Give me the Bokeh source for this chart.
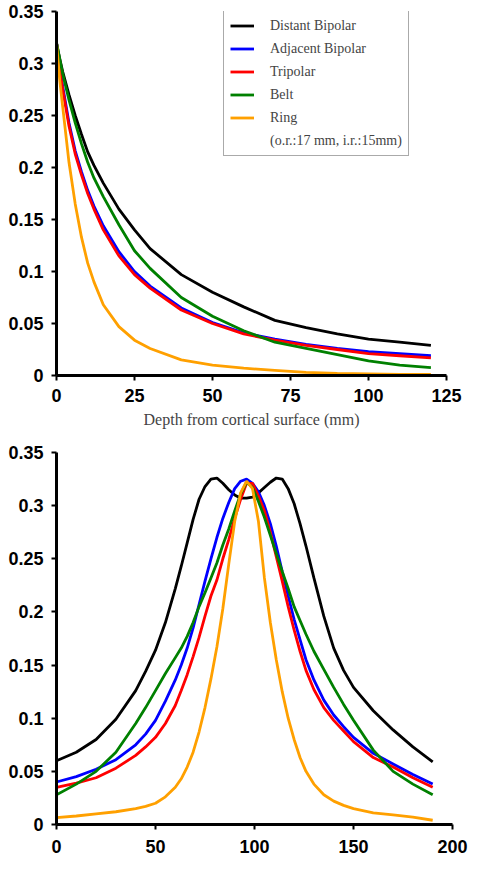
from bokeh.plotting import figure
from bokeh.models import Range1d, FixedTicker, CustomJSTickFormatter, Legend, LegendItem
from bokeh.layouts import column
from bokeh.embed import file_html
from bokeh.resources import INLINE

# ---------------- data: top chart (potential vs depth) ----------------
depth = [0, 1, 2, 4, 6, 8, 10, 12, 15, 20, 25, 30, 40, 50, 60, 70, 80, 90, 100, 110, 120]
top_distant = [0.320, 0.305, 0.292, 0.270, 0.250, 0.232, 0.215, 0.202, 0.185, 0.160, 0.140,
               0.122, 0.097, 0.080, 0.066, 0.053, 0.046, 0.040, 0.035, 0.032, 0.029]
top_adjacent = [0.320, 0.297, 0.278, 0.243, 0.216, 0.196, 0.178, 0.163, 0.144, 0.119, 0.100,
                0.086, 0.065, 0.051, 0.041, 0.035, 0.030, 0.026, 0.023, 0.021, 0.019]
top_tripolar = [0.320, 0.295, 0.275, 0.240, 0.213, 0.193, 0.175, 0.160, 0.140, 0.115, 0.097,
                0.084, 0.063, 0.050, 0.040, 0.034, 0.029, 0.025, 0.021, 0.019, 0.017]
top_belt = [0.320, 0.305, 0.290, 0.265, 0.243, 0.223, 0.205, 0.190, 0.172, 0.145, 0.120,
            0.103, 0.075, 0.057, 0.043, 0.032, 0.026, 0.020, 0.014, 0.010, 0.0075]
top_ring = [0.320, 0.285, 0.258, 0.205, 0.165, 0.133, 0.108, 0.090, 0.068, 0.047, 0.034,
            0.026, 0.015, 0.010, 0.007, 0.005, 0.003, 0.002, 0.0015, 0.001, 0.001]

# ---------------- data: bottom chart (lateral profile) ----------------
pos = [0, 10, 20, 30, 40, 45, 50, 55, 60, 63, 66, 69, 72, 75, 78, 81, 84, 87, 90, 93, 96,
       99, 102, 105, 108, 111, 114, 117, 120, 123, 126, 130, 135, 140, 145, 150, 160, 170,
       180, 190]
bot_distant = [0.060, 0.068, 0.080, 0.099, 0.126, 0.144, 0.164, 0.190, 0.222, 0.243, 0.265,
               0.287, 0.306, 0.318, 0.325, 0.326, 0.321, 0.315, 0.310, 0.307, 0.307,
               0.308, 0.312, 0.317, 0.322, 0.326, 0.325, 0.316, 0.302, 0.283, 0.262,
               0.232, 0.196, 0.166, 0.145, 0.129, 0.107, 0.089, 0.073, 0.059]
bot_adjacent = [0.040, 0.045, 0.052, 0.061, 0.075, 0.085, 0.098, 0.116, 0.136, 0.150, 0.166,
                0.185, 0.207, 0.229, 0.250, 0.270, 0.288, 0.303, 0.316, 0.323, 0.325,
                0.321, 0.313, 0.300, 0.283, 0.262, 0.238, 0.215, 0.193, 0.174, 0.155,
                0.136, 0.117, 0.103, 0.092, 0.082, 0.067, 0.057, 0.047, 0.038]
bot_tripolar = [0.035, 0.039, 0.044, 0.053, 0.065, 0.073, 0.082, 0.095, 0.112, 0.126, 0.141,
                0.158, 0.176, 0.196, 0.215, 0.230, 0.250, 0.268, 0.288, 0.306, 0.321,
                0.321, 0.309, 0.295, 0.275, 0.252, 0.229, 0.205, 0.183, 0.163, 0.145,
                0.127, 0.110, 0.098, 0.088, 0.078, 0.063, 0.054, 0.044, 0.035]
bot_belt = [0.028, 0.038, 0.050, 0.068, 0.095, 0.110, 0.126, 0.142, 0.157, 0.166, 0.177,
            0.190, 0.205, 0.218, 0.232, 0.246, 0.263, 0.278, 0.295, 0.311, 0.322,
            0.317, 0.304, 0.289, 0.272, 0.255, 0.238, 0.222, 0.205, 0.192, 0.179,
            0.163, 0.146, 0.129, 0.113, 0.098, 0.070, 0.050, 0.038, 0.028]
bot_ring = [0.0065, 0.008, 0.010, 0.012, 0.015, 0.017, 0.020, 0.026, 0.035, 0.043, 0.054,
            0.068, 0.087, 0.110, 0.137, 0.167, 0.203, 0.245, 0.285, 0.312, 0.323,
            0.316, 0.285, 0.232, 0.190, 0.155, 0.125, 0.100, 0.080, 0.063, 0.050,
            0.038, 0.028, 0.022, 0.018, 0.015, 0.011, 0.009, 0.007, 0.004]

series_names = ["Distant Bipolar", "Adjacent Bipolar", "Tripolar", "Belt", "Ring"]
ring_note = "(o.r.:17 mm, i.r.:15mm)"
colors = ["#000000", "#0000FF", "#FF0000", "#008000", "#FFA000"]

y_ticks = [0, 0.05, 0.1, 0.15, 0.2, 0.25, 0.3, 0.35]
x_ticks_top = [0, 25, 50, 75, 100, 125]
x_ticks_bottom = [0, 50, 100, 150, 200]
x_label_top = "Depth from cortical surface (mm)"

TICK_FONT = "Liberation Sans"
fmt_code = "var s = tick.toFixed(2).replace(/0+$/, '').replace(/\\.$/, ''); return s;"


def style_axes(p, xticks, x_standoff):
    p.xgrid.visible = False
    p.ygrid.visible = False
    p.outline_line_color = None
    p.background_fill_color = "white"
    p.border_fill_color = "white"
    p.xaxis.ticker = FixedTicker(ticks=xticks)
    p.yaxis.ticker = FixedTicker(ticks=y_ticks)
    p.yaxis.formatter = CustomJSTickFormatter(code=fmt_code)
    for ax in (p.xaxis[0], p.yaxis[0]):
        ax.axis_line_width = 3
        ax.axis_line_color = "black"
        ax.major_tick_line_width = 2
        ax.major_tick_line_color = "black"
        ax.major_tick_in = 0
        ax.major_tick_out = 5
        ax.minor_tick_line_color = None
        ax.major_label_text_font = TICK_FONT
        ax.major_label_text_font_style = "bold"
        ax.major_label_text_font_size = "18px"
        ax.major_label_text_color = "black"
    p.yaxis.major_label_standoff = 8
    p.xaxis.major_label_standoff = x_standoff


LW = 2.8

# ---------------- top figure ----------------
p1 = figure(output_backend="svg", toolbar_location=None,
            x_range=Range1d(0, 125), y_range=Range1d(0, 0.35),
            frame_width=390, frame_height=364,
            min_border_left=54, min_border_right=27, min_border_top=11, min_border_bottom=64)
style_axes(p1, x_ticks_top, 8)
p1.xaxis.axis_label = x_label_top
p1.xaxis.axis_label_text_font = "Liberation Serif"
p1.xaxis.axis_label_text_font_style = "normal"
p1.xaxis.axis_label_text_font_size = "16px"
p1.xaxis.axis_label_standoff = 6

top_series = [top_distant, top_adjacent, top_tripolar, top_belt, top_ring]
renderers = []
for ys, c in zip(top_series, colors):
    r = p1.line(depth, ys, line_color=c, line_width=LW)
    renderers.append(r)
dummy = p1.line([], [], line_color="white", line_alpha=0)

items = [LegendItem(label=n, renderers=[r]) for n, r in zip(series_names, renderers)]
items.append(LegendItem(label=ring_note, renderers=[dummy]))
legend = Legend(items=items, location=(167, 219), margin=0,
                label_text_font="Liberation Serif", label_text_font_size="14px",
                label_height=17, spacing=6, padding=6, glyph_width=24, glyph_height=17,
                label_standoff=16,
                border_line_color="#555555", border_line_width=1.5,
                background_fill_color="white", background_fill_alpha=1.0)
p1.add_layout(legend, "center")

# ---------------- bottom figure ----------------
p2 = figure(output_backend="svg", toolbar_location=None,
            x_range=Range1d(0, 200), y_range=Range1d(0, 0.35),
            frame_width=396, frame_height=372,
            min_border_left=56, min_border_right=19, min_border_top=13, min_border_bottom=37)
style_axes(p2, x_ticks_bottom, 10)

bot_series = [bot_distant, bot_adjacent, bot_tripolar, bot_belt, bot_ring]
for ys, c in zip(bot_series, colors):
    p2.line(pos, ys, line_color=c, line_width=LW)

layout = column(p1, p2, spacing=0)
open("out.html", "w").write(file_html(layout, INLINE))
